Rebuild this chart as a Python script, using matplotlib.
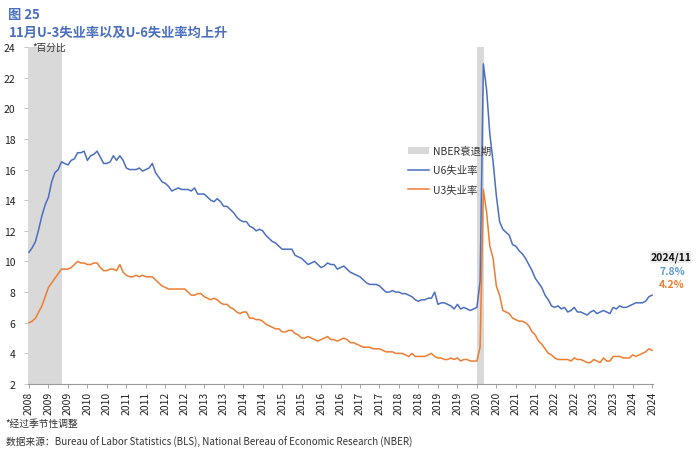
import numpy as np
import matplotlib
matplotlib.use('Agg')
from matplotlib import pyplot as plt
from matplotlib.patches import Patch
from matplotlib.lines import Line2D

plt.rcParams['font.family'] = ['Noto Sans CJK SC', 'DejaVu Sans']

#------------------------------------------------------------
# monthly values (percent), 2008 -> 2024/11
u6 = [10.6, 10.9, 11.3, 12.1, 13.0, 13.7, 14.2, 15.2, 15.8, 16.0,
      16.5, 16.4, 16.3, 16.6, 16.7, 17.1, 17.1, 17.2, 16.6, 16.9,
      17.0, 17.2, 16.8, 16.4, 16.4, 16.5, 16.9, 16.6, 16.9, 16.6,
      16.1, 16.0, 16.0, 16.0, 16.1, 15.9, 16.0, 16.1, 16.4, 15.8,
      15.5, 15.2, 15.1, 14.9, 14.6, 14.7, 14.8, 14.7, 14.7, 14.7,
      14.6, 14.8, 14.4, 14.4, 14.4, 14.2, 14.0, 13.9, 14.1, 13.9,
      13.6, 13.6, 13.4, 13.2, 12.9, 12.7, 12.6, 12.6, 12.3, 12.2,
      12.0, 12.1, 12.0, 11.7, 11.5, 11.3, 11.2, 11.0, 10.8, 10.8,
      10.8, 10.8, 10.4, 10.3, 10.2, 10.0, 9.8, 9.9, 10.0, 9.8,
      9.6, 9.7, 9.9, 9.8, 9.8, 9.5, 9.6, 9.7, 9.5, 9.3,
      9.2, 9.1, 9.0, 8.8, 8.6, 8.5, 8.5, 8.5, 8.4, 8.2,
      8.0, 8.0, 8.1, 8.0, 8.0, 7.9, 7.9, 7.8, 7.7, 7.5,
      7.4, 7.5, 7.5, 7.6, 7.6, 8.0, 7.2, 7.3, 7.3, 7.2,
      7.1, 6.9, 7.2, 6.9, 7.0, 6.9, 6.8, 6.9, 7.0, 8.7,
      22.9, 21.2, 18.3, 16.5, 14.3, 12.6, 12.1, 11.9, 11.7, 11.1,
      11.0, 10.7, 10.5, 10.2, 9.8, 9.4, 8.9, 8.6, 8.3, 7.8,
      7.5, 7.1, 7.0, 7.1, 6.9, 7.0, 6.7, 6.8, 7.0, 6.7,
      6.7, 6.6, 6.5, 6.7, 6.8, 6.6, 6.7, 6.8, 6.7, 6.6,
      7.0, 6.9, 7.1, 7.0, 7.0, 7.1, 7.2, 7.3, 7.3, 7.3,
      7.4, 7.7, 7.8]

u3 = [6.0, 6.1, 6.3, 6.7, 7.1, 7.7, 8.3, 8.6, 8.9, 9.2,
      9.5, 9.5, 9.5, 9.6, 9.8, 10.0, 9.9, 9.9, 9.8, 9.8,
      9.9, 9.9, 9.6, 9.4, 9.4, 9.5, 9.5, 9.4, 9.8, 9.3,
      9.1, 9.0, 9.0, 9.1, 9.0, 9.1, 9.0, 9.0, 9.0, 8.8,
      8.6, 8.4, 8.3, 8.2, 8.2, 8.2, 8.2, 8.2, 8.2, 8.0,
      7.8, 7.8, 7.9, 7.9, 7.7, 7.6, 7.5, 7.6, 7.5, 7.3,
      7.2, 7.2, 7.0, 6.9, 6.7, 6.6, 6.7, 6.7, 6.3, 6.3,
      6.2, 6.2, 6.1, 5.9, 5.8, 5.7, 5.6, 5.6, 5.4, 5.4,
      5.5, 5.5, 5.3, 5.2, 5.0, 5.0, 5.1, 5.0, 4.9, 4.8,
      4.9, 5.0, 5.1, 4.9, 4.9, 4.8, 4.9, 5.0, 4.9, 4.7,
      4.7, 4.6, 4.5, 4.4, 4.4, 4.4, 4.3, 4.3, 4.3, 4.2,
      4.1, 4.1, 4.1, 4.0, 4.0, 4.0, 3.9, 3.8, 4.0, 3.8,
      3.8, 3.8, 3.8, 3.9, 4.0, 3.8, 3.7, 3.7, 3.6, 3.6,
      3.7, 3.6, 3.7, 3.5, 3.6, 3.6, 3.5, 3.5, 3.5, 4.4,
      14.7, 13.2, 11.0, 10.2, 8.4, 7.8, 6.8, 6.7, 6.6, 6.3,
      6.2, 6.1, 6.1, 6.0, 5.8, 5.4, 5.2, 4.8, 4.6, 4.3,
      4.0, 3.9, 3.7, 3.6, 3.6, 3.6, 3.6, 3.5, 3.7, 3.6,
      3.6, 3.5, 3.4, 3.4, 3.6, 3.5, 3.4, 3.7, 3.5, 3.5,
      3.8, 3.8, 3.8, 3.7, 3.7, 3.7, 3.9, 3.8, 3.9, 4.0,
      4.1, 4.3, 4.2]

# year label for every 6th month
tick_labels = ['2008', '2009', '2009', '2010', '2010', '2011', '2011',
               '2012', '2012', '2013', '2013', '2014', '2014', '2015',
               '2015', '2016', '2016', '2017', '2017', '2018', '2018',
               '2019', '2019', '2020', '2020', '2021', '2021', '2022',
               '2022', '2023', '2023', '2024', '2024']

# NBER recessions, in month index
rec_start = [-0.3, 138.0]
rec_end = [10.2, 140.3]

blue = '#4a6fbf'
orange = '#ed7d31'

#------------------------------------------------------------
fig = plt.figure(figsize=(7, 4.56), dpi=100)
ax = fig.add_axes([0.04, 0.1557, 0.893, 0.739])

x = np.arange(len(u6))
for s, e in zip(rec_start, rec_end):
    ax.axvspan(s, e, color='#d9d9d9', lw=0, zorder=0)
ax.plot(x, u6, color=blue, lw=1.1, zorder=3)
ax.plot(x, u3, color=orange, lw=1.1, zorder=3)

ax.set_xlim(-0.3, len(u6) - 0.7)
ax.set_ylim(2, 24)
ax.set_yticks(np.arange(2, 25, 2))
ax.set_xticks(np.arange(0, len(u6), 6))
ax.set_xticklabels(tick_labels, rotation=90)
ax.tick_params(axis='both', labelsize=7.5, colors='#222222', length=3,
               width=0.6, pad=2)
ax.tick_params(axis='y', color='#bfbfbf', pad=6)
ax.tick_params(axis='x', color='#9a9a9a')

for sp in ['top', 'right', 'left']:
    ax.spines[sp].set_visible(False)
ax.spines['bottom'].set_color('#9a9a9a')
ax.spines['bottom'].set_linewidth(0.8)

handles = [Patch(facecolor='#d9d9d9', edgecolor='none'),
           Line2D([], [], color=blue, lw=1.1),
           Line2D([], [], color=orange, lw=1.1)]
ax.legend(handles, ['NBER衰退期', 'U6失业率', 'U3失业率'],
          loc='upper left', bbox_to_anchor=(0.593, 0.735), frameon=False,
          fontsize=7.5, handlelength=2.0, handleheight=0.6,
          labelspacing=0.9, handletextpad=0.4, labelcolor='#333333')

ax.text(0.007, 1.0, '*百分比', transform=ax.transAxes, fontsize=7,
        va='center', ha='left', color='#333333')

# latest values on the right
fig.text(0.958, 0.434, '2024/11', fontsize=7.5, weight='bold', ha='center',
         va='center', color='#111111',
         bbox=dict(facecolor='#ececec', edgecolor='none', pad=0.3))
fig.text(0.96, 0.403, f'{u6[-1]}%', fontsize=7.5, weight='bold',
         ha='center', va='center', color='#5b9bd5')
fig.text(0.96, 0.374, f'{u3[-1]}%', fontsize=7.5, weight='bold',
         ha='center', va='center', color=orange)

fig.text(0.012, 0.967, '图 25', fontsize=9.5, weight='bold', color=blue,
         ha='left', va='center')
fig.text(0.012, 0.927, '11月U-3失业率以及U-6失业率均上升', fontsize=9.5,
         weight='bold', color=blue, ha='left', va='center')

fig.text(0.008, 0.07, '*经过季节性调整', fontsize=7, color='#333333',
         ha='left', va='center')
fig.text(0.008, 0.03,
         '数据来源：Bureau of Labor Statistics (BLS), National Bereau of Economic Research (NBER)',
         fontsize=7, color='#333333', ha='left', va='center')

fig.savefig('out.png', dpi=100)
